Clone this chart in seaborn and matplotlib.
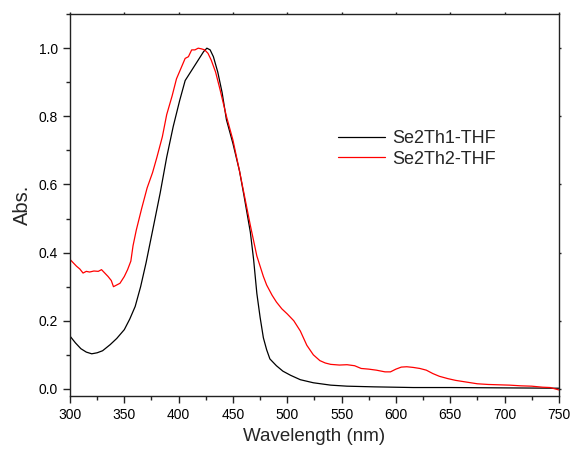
import pandas as pd
import matplotlib
matplotlib.use("Agg")
import matplotlib.pyplot as plt
import seaborn as sns
from matplotlib.ticker import MultipleLocator

# Se2Th1-THF absorption spectrum (normalised)
wl_1 = [300, 305, 310, 315, 320, 325, 330, 337, 343, 350,
        355, 360, 365, 370, 377, 383, 389, 395, 401, 406,
        412, 418, 423, 426, 429, 432, 436, 440, 444, 450,
        456, 460, 466, 469, 472, 475, 478, 481, 484, 490,
        496, 503, 512, 524, 540, 555, 580, 616, 650, 700,
        750]
abs_1 = [0.155, 0.135, 0.118, 0.108, 0.103, 0.106, 0.112, 0.13, 0.148, 0.174,
         0.205, 0.242, 0.30, 0.37, 0.48, 0.575, 0.68, 0.77, 0.847, 0.905,
         0.935, 0.965, 0.99, 1.0, 0.995, 0.975, 0.93, 0.87, 0.79, 0.72,
         0.64, 0.57, 0.46, 0.38, 0.28, 0.21, 0.15, 0.115, 0.088, 0.068,
         0.052, 0.04, 0.027, 0.018, 0.011, 0.008, 0.006, 0.004, 0.004, 0.003,
         0.002]

# Se2Th2-THF absorption spectrum (normalised)
wl_2 = [300, 303, 306, 309, 312, 315, 318, 322, 326, 329,
        332, 335, 338, 340, 343, 346, 350, 353, 356, 358,
        361, 366, 371, 376, 380, 385, 389, 394, 398, 402,
        406, 409, 412, 415, 418, 421, 424, 427, 430, 434,
        438, 444, 450, 456, 461, 466, 469, 472, 475, 478,
        481, 486, 490, 495, 500, 506, 512, 518, 524, 530,
        535, 540, 548, 555, 562, 568, 575, 582, 590, 595,
        600, 605, 610, 616, 622, 628, 634, 640, 648, 655,
        665, 675, 685, 695, 705, 715, 725, 735, 742, 750]
abs_2 = [0.38, 0.37, 0.36, 0.352, 0.34, 0.345, 0.343, 0.346, 0.345, 0.35,
         0.34, 0.33, 0.318, 0.30, 0.305, 0.31, 0.33, 0.35, 0.375, 0.42,
         0.466, 0.53, 0.59, 0.635, 0.68, 0.74, 0.805, 0.86, 0.91, 0.94,
         0.97, 0.975, 0.995, 0.995, 1.0, 0.998, 0.995, 0.985, 0.965, 0.93,
         0.88, 0.80, 0.73, 0.64, 0.56, 0.48, 0.435, 0.39, 0.36, 0.33,
         0.305, 0.275, 0.255, 0.235, 0.22, 0.2, 0.17, 0.128, 0.1, 0.083,
         0.076, 0.072, 0.07, 0.071, 0.068, 0.06, 0.058, 0.055, 0.05, 0.05,
         0.058, 0.064, 0.065, 0.063, 0.06, 0.055, 0.045, 0.037, 0.03, 0.025,
         0.02, 0.015, 0.013, 0.012, 0.011, 0.009, 0.008, 0.005, 0.004, -0.003]

labels = ["Se2Th1-THF", "Se2Th2-THF"]
colors = ["black", "red"]

df = pd.concat([
    pd.DataFrame({"wl": wl_1, "abs": abs_1, "sample": labels[0]}),
    pd.DataFrame({"wl": wl_2, "abs": abs_2, "sample": labels[1]}),
])

sns.set_style("ticks")
plt.rcParams["font.family"] = ["Liberation Sans", "DejaVu Sans"]

fig, ax = plt.subplots(figsize=(5.72, 4.55), dpi=100)
fig.subplots_adjust(left=0.1224, right=0.977, top=0.969, bottom=0.1303)

sns.lineplot(data=df, x="wl", y="abs", hue="sample", palette=colors,
             linewidth=0.9, sort=False, estimator=None, ax=ax)

ax.set_xlim(300, 750)
ax.set_ylim(-0.02, 1.1)
ax.xaxis.set_major_locator(MultipleLocator(50))
ax.xaxis.set_minor_locator(MultipleLocator(25))
ax.yaxis.set_major_locator(MultipleLocator(0.2))
ax.yaxis.set_minor_locator(MultipleLocator(0.1))
ax.yaxis.set_major_formatter(plt.FuncFormatter(lambda v, p: f"{v:.1f}"))

for s in ax.spines.values():
    s.set_linewidth(1.0)
    s.set_color("#222222")

# bottom/left ticks outward, top/right only tiny marks
ax.tick_params(which="major", direction="out", length=5, width=1.0,
               labelsize=10, colors="#222222", labelcolor="black")
ax.tick_params(which="minor", direction="out", length=3, width=1.0, colors="#222222")
ax.tick_params(axis="x", which="both", top=True)
ax.tick_params(axis="y", which="both", right=True)
for t in ax.xaxis.get_ticklines(minor=False)[1::2] + ax.yaxis.get_ticklines(minor=False)[1::2]:
    t.set_markersize(1.2)
for t in ax.xaxis.get_ticklines(minor=True)[1::2] + ax.yaxis.get_ticklines(minor=True)[1::2]:
    t.set_markersize(0)

ax.set_xlabel("Wavelength (nm)", fontsize=13.5, labelpad=5)
ax.set_ylabel("Abs.", fontsize=14.5, labelpad=5)

ax.legend(loc="center left", bbox_to_anchor=(0.548, 0.647), frameon=False,
          fontsize=13, handlelength=2.6, handletextpad=0.4,
          labelspacing=0.2, borderaxespad=0, borderpad=0)

fig.savefig("out.png", dpi=100)
